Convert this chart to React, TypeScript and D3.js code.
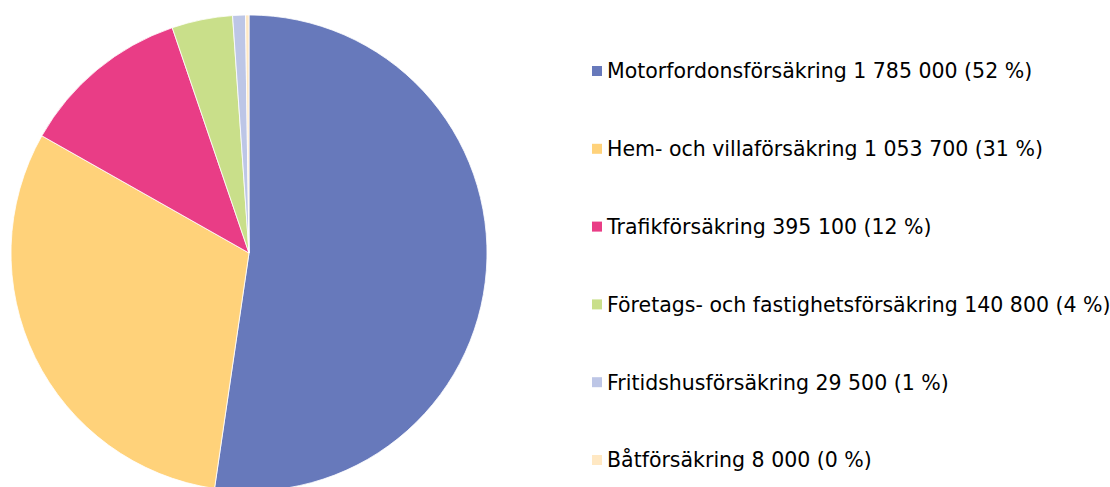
import React, { useEffect, useRef } from "react";
import * as d3 from "d3";

const categories = [
  "Motorfordonsförsäkring",
  "Hem- och villaförsäkring",
  "Trafikförsäkring",
  "Företags- och fastighetsförsäkring",
  "Fritidshusförsäkring",
  "Båtförsäkring",
];
const values = [1785000, 1053700, 395100, 140800, 29500, 8000];
const percentLabels = ["52 %", "31 %", "12 %", "4 %", "1 %", "0 %"];
const colors = ["#6779BB", "#FFD27A", "#E93D86", "#C9DF8A", "#BDC6E6", "#FFE8C3"];

const App = () => {
  const ref = useRef<HTMLDivElement>(null);

  useEffect(() => {
    const width = 1110;
    const height = 487;
    const cx = 249;
    const cy = 253;
    const radius = 238;

    const svg = d3
      .select(ref.current)
      .html("")
      .append("svg")
      .attr("width", width)
      .attr("height", height)
      .style("display", "block");

    const data = categories.map((c, i) => ({ name: c, value: values[i], i }));

    const pie = d3
      .pie<any>()
      .value((d) => d.value)
      .sort(null);

    const arc = d3.arc<any>().innerRadius(0).outerRadius(radius);

    svg
      .append("g")
      .attr("transform", `translate(${cx},${cy})`)
      .selectAll("path")
      .data(pie(data))
      .join("path")
      .attr("d", arc)
      .attr("fill", (d) => colors[d.data.i])
      .attr("stroke", "#fff")
      .attr("stroke-width", 0.8);

    // Legend
    const y = d3
      .scalePoint()
      .domain(categories)
      .range([71, 460]);

    const fmt = (v: number) =>
      d3.format(",")(v).replace(/,/g, " ");

    const legend = svg
      .append("g")
      .selectAll("g")
      .data(data)
      .join("g")
      .attr("transform", (d) => `translate(592,${y(d.name)})`);

    legend
      .append("rect")
      .attr("x", 0)
      .attr("y", -5)
      .attr("width", 10)
      .attr("height", 10)
      .attr("fill", (d) => colors[d.i]);

    legend
      .append("text")
      .attr("x", 15)
      .attr("y", 0)
      .attr("dy", "0.36em")
      .attr("font-family", "Verdana, 'DejaVu Sans', sans-serif")
      .attr("font-size", "20.5px")
      .attr("fill", "#000")
      .text((d) => `${d.name} ${fmt(d.value)} (${percentLabels[d.i]})`);
  }, []);

  return (
    <div
      ref={ref}
      style={{ position: "fixed", left: 0, top: 0, width: 1110, height: 487, background: "#fff" }}
    />
  );
};

export default App;
